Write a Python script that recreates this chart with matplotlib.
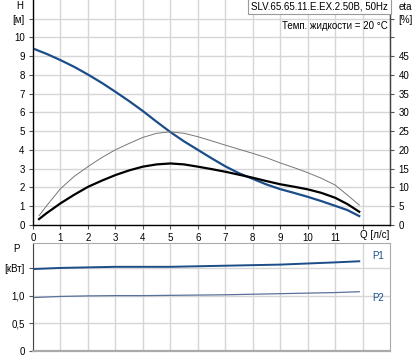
import matplotlib.pyplot as plt

plt.rcParams['font.family'] = ['Liberation Sans', 'DejaVu Sans']

# pump curves
q = [0, 0.5, 1, 1.5, 2, 2.5, 3, 3.5, 4, 4.5, 5, 5.5, 6, 6.5, 7, 7.5, 8, 8.5,
     9, 9.5, 10, 10.5, 11, 11.45, 11.88]
head = [9.41, 9.12, 8.79, 8.43, 8.02, 7.58, 7.1, 6.6, 6.07, 5.5, 4.95, 4.45, 4.0,
        3.55, 3.12, 2.75, 2.45, 2.15, 1.9, 1.7, 1.49, 1.26, 1.01, 0.78, 0.46]

q_eta = [0.22, 0.5, 1, 1.5, 2, 2.5, 3, 3.5, 4, 4.5, 5, 5.5, 6, 6.5, 7, 7.5, 8,
         8.5, 9, 9.5, 10, 10.5, 11, 11.45, 11.88]
eta_hyd = [2.4, 5.1, 9.6, 12.9, 15.5, 17.9, 20.0, 21.7, 23.3, 24.4, 24.8, 24.4,
           23.5, 22.4, 21.25, 20.15, 19.05, 17.9, 16.5, 15.25, 13.9, 12.4, 10.6,
           7.9, 5.25]
eta_tot = [1.5, 3.1, 5.7, 8.0, 10.1, 11.75, 13.25, 14.5, 15.5, 16.1, 16.35, 16.1,
           15.5, 14.85, 14.15, 13.35, 12.55, 11.65, 10.8, 10.15, 9.45, 8.5, 7.2,
           5.5, 3.45]

q_p = [0, 1, 2, 3, 4, 5, 6, 7, 8, 9, 10, 11, 11.88]
p1 = [1.48, 1.50, 1.51, 1.52, 1.52, 1.52, 1.53, 1.54, 1.55, 1.56, 1.58, 1.60, 1.62]
p2 = [0.965, 0.985, 0.995, 1.0, 1.0, 1.005, 1.01, 1.015, 1.025, 1.035, 1.045, 1.055, 1.07]

blue = '#1b4d89'
grid_c = '#d6d6d6'
fs = 7

W, H = 416, 360
fig = plt.figure(figsize=(W / 100, H / 100), dpi=100)

ax = fig.add_axes([33 / W, (H - 224.7) / H, 357 / W, 224.7 / H])
ax.set_xlim(0, 13)
ax.set_ylim(0, 12)
ax.set_xticks(range(0, 13))
ax.set_xticklabels([str(i) for i in range(12)] + [''])
ax.set_yticks(range(0, 12))
ax.set_yticklabels([str(i) for i in range(11)] + ['[м]'])
ax.text(-0.47, 11.67, 'H', ha='center', va='center', fontsize=fs)
ax.text(12.45, -0.55, 'Q [л/с]', ha='center', va='center', fontsize=fs)
ax.grid(True, color=grid_c, lw=1)
ax.set_axisbelow(True)
ax.tick_params(labelsize=fs, length=3, width=0.8, color='#555555', pad=3)
ax.spines['top'].set_visible(False)
for s in ['left', 'bottom', 'right']:
    ax.spines[s].set_color('#444444')
    ax.spines[s].set_linewidth(1)

ax.plot(q, head, color=blue, lw=1.6, solid_joinstyle='round')

ax2 = ax.twinx()
ax2.set_ylim(0, 60)
ax2.set_yticks(range(0, 60, 5))
ax2.set_yticklabels([str(v) for v in range(0, 50, 5)] + ['', '[%]'])
ax2.tick_params(labelsize=fs, length=3, width=0.8, color='#555555', pad=3)
ax2.text(13.3, 58.2, 'eta', ha='left', va='center', fontsize=fs)
ax2.spines['top'].set_visible(False)
ax2.spines['right'].set_color('#444444')
ax2.plot(q_eta, eta_hyd, color='#777777', lw=0.7, solid_joinstyle='round')
ax2.plot(q_eta, eta_tot, color='black', lw=1.6, solid_joinstyle='round')

ax2.text(12.93, 58.3, 'SLV.65.65.11.E.EX.2.50B, 50Hz', ha='right', va='center', fontsize=fs,
         bbox=dict(boxstyle='square,pad=0.3', fc='white', ec='#999999', lw=0.8))
ax2.text(12.9, 53.0, 'Темп. жидкости = 20 °C', ha='right', va='center', fontsize=fs)

bx = fig.add_axes([33 / W, (H - 351) / H, 357 / W, 108 / H])
bx.set_xlim(0, 13)
bx.set_ylim(0, 1.95)
bx.set_xticks(range(0, 13))
bx.set_xticklabels([])
bx.set_yticks([0, 0.5, 1.0, 1.5])
bx.set_yticklabels(['0', '0,5', '1,0', '[кВт]'])
bx.tick_params(axis='x', length=0)
bx.tick_params(axis='y', labelsize=fs, length=3, width=0.8, color='#555555', pad=3)
bx.text(-0.6, 1.84, 'P', ha='center', va='center', fontsize=fs)
bx.grid(True, color=grid_c, lw=1)
bx.set_axisbelow(True)
bx.spines['left'].set_color('#444444')
for s in ['top', 'right', 'bottom']:
    bx.spines[s].set_color('#aaaaaa')
bx.spines['bottom'].set_linewidth(1.6)

bx.plot(q_p, p1, color=blue, lw=1.4)
bx.plot(q_p, p2, color='#5a7199', lw=0.9)
bx.text(12.55, 1.72, 'P1', ha='center', va='center', fontsize=fs, color=blue)
bx.text(12.55, 0.95, 'P2', ha='center', va='center', fontsize=fs, color=blue)

fig.savefig('out.png', dpi=100)
